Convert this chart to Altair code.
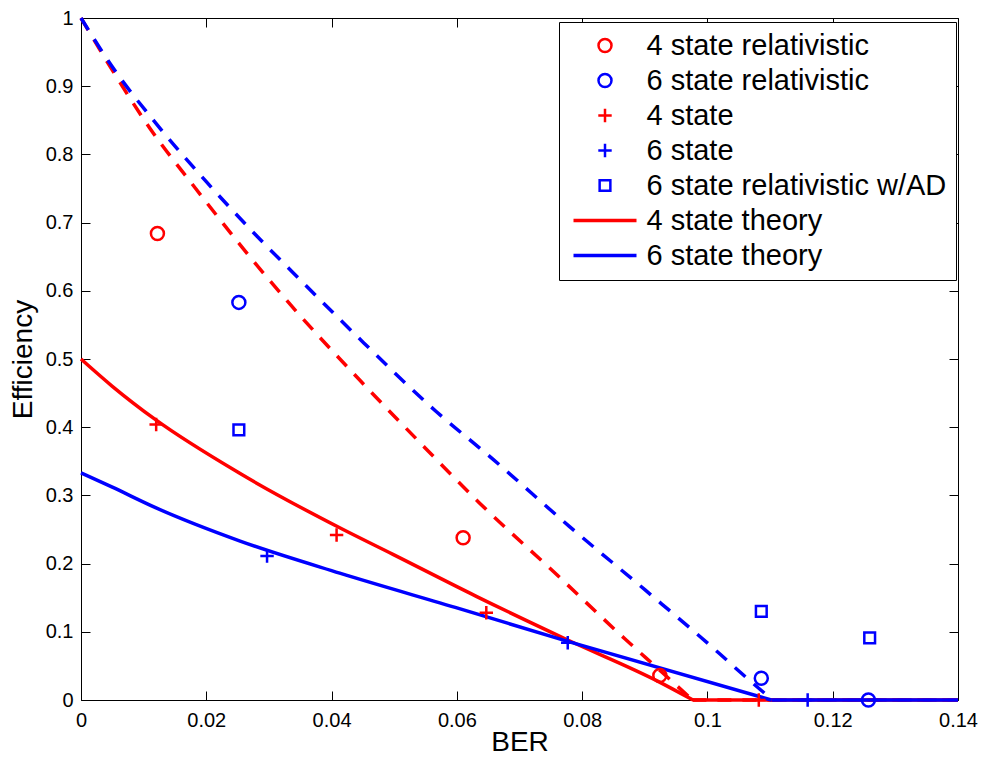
import altair as alt
import pandas as pd

# ---------------- data ----------------
x_ticks = [0, 0.02, 0.04, 0.06, 0.08, 0.1, 0.12, 0.14]
y_ticks = [0, 0.1, 0.2, 0.3, 0.4, 0.5, 0.6, 0.7, 0.8, 0.9, 1]

series_names = [
    "4 state relativistic",
    "6 state relativistic",
    "4 state",
    "6 state",
    "6 state relativistic w/AD",
    "4 state theory",
    "6 state theory",
]

# measured points
rel4_x = [0.0122, 0.0610, 0.0924]
rel4_y = [0.684, 0.238, 0.036]
rel6_x = [0.0252, 0.1086, 0.1257]
rel6_y = [0.583, 0.032, 0.0]
st4_x = [0.0120, 0.0408, 0.0647, 0.1082]
st4_y = [0.404, 0.242, 0.128, 0.0]
st6_x = [0.0297, 0.0777, 0.1160]
st6_y = [0.211, 0.084, 0.0]
ad6_x = [0.0252, 0.1086, 0.1259]
ad6_y = [0.396, 0.130, 0.091]

# theory curves (solid): sloped part, then the flat part at zero
th4_x = [0, 0.005, 0.0119, 0.0254, 0.0413, 0.0498, 0.0631, 0.0777, 0.0922, 0.0977]
th4_y = [0.5, 0.460, 0.411, 0.332, 0.2525, 0.2135, 0.152, 0.088, 0.027, 0.0]
th4_zero_x = [0.0977, 0.14]
th6_x = [0, 0.005, 0.0119, 0.0254, 0.0413, 0.0604, 0.0777, 0.1102]
th6_y = [0.333, 0.312, 0.282, 0.233, 0.186, 0.134, 0.086, 0.0]
th6_zero_x = [0.1102, 0.14]

# dashed curves
d4_x = [0, 0.0045, 0.0111, 0.0183, 0.0257, 0.0334, 0.0443, 0.0549, 0.0636, 0.0755, 0.0869, 0.0927, 0.0976]
d4_y = [1.0, 0.931, 0.837, 0.750, 0.664, 0.580, 0.471, 0.370, 0.289, 0.1876, 0.089, 0.041, 0.0]
d4_zero_x = [0.0976, 0.14]
d6_x = [0, 0.0048, 0.0121, 0.0200, 0.0281, 0.0337, 0.0451, 0.0567, 0.0657, 0.0779, 0.0901, 0.1020, 0.1052, 0.1104]
d6_y = [1.0, 0.931, 0.844, 0.760, 0.680, 0.628, 0.524, 0.423, 0.3535, 0.255, 0.161, 0.0674, 0.041, 0.0]
d6_zero_x = [0.1104, 0.14]

# ---------------- styles ----------------
FONT = "Liberation Sans"
RED = "#ff0000"
BLUE = "#0000ff"
PLUS = "M-1,0L1,0M0,-1L0,1"
W, H = 877, 682

color_range = [RED, BLUE, RED, BLUE, BLUE, RED, BLUE]
shape_range = ["circle", "circle", PLUS, PLUS, "square", "stroke", "stroke"]
size_range = [169, 169, 180, 180, 115, 3969, 3969]
sw_range = [2.5, 2.5, 2.5, 2.5, 2.5, 3.5, 3.5]

rows = []
for name, xs, ys in [
    ("4 state relativistic", rel4_x, rel4_y),
    ("6 state relativistic", rel6_x, rel6_y),
    ("4 state", st4_x, st4_y),
    ("6 state", st6_x, st6_y),
    ("6 state relativistic w/AD", ad6_x, ad6_y),
]:
    for xv, yv in zip(xs, ys):
        rows.append({"series": name, "ber": xv, "eff": yv})
points_df = pd.DataFrame(rows)

x_scale = alt.Scale(domain=[0, 0.14], nice=False, zero=False)
y_scale = alt.Scale(domain=[0, 1], nice=False, zero=False)

common_lab = dict(labelFont=FONT, labelFontSize=20, labelColor="black",
                  titleFont=FONT, titleFontSize=28, titleFontWeight="normal",
                  titleColor="black", grid=False, domain=False)

ax_x_main = alt.Axis(orient="bottom", values=x_ticks, format="~g", ticks=False, tickSize=0,
                     labelPadding=10, labelFlush=False, labelOverlap=False, labelBound=False,
                     title="BER", titlePadding=-2, **common_lab)
ax_y_main = alt.Axis(orient="left", values=y_ticks, format="~g", ticks=False, tickSize=0,
                     labelPadding=8, labelFlush=False, labelOverlap=False, labelBound=False,
                     title="Efficiency", titlePadding=8, **common_lab)


def tick_axis(orient, offset, values):
    return alt.Axis(orient=orient, offset=offset, values=values, labels=False, domain=False,
                    grid=False, ticks=True, tickSize=9, tickColor="black", tickWidth=1,
                    title=None)


def line_layer(xs, ys, zero_xs, color, dash, ax_x, ax_y):
    df = pd.concat([
        pd.DataFrame({"ber": xs, "eff": ys, "part": "slope"}),
        pd.DataFrame({"ber": zero_xs, "eff": [0.0] * len(zero_xs), "part": "zero"}),
    ], ignore_index=True)
    kw = dict(color=color, strokeWidth=3.5, interpolate="monotone", strokeCap="butt",
              strokeJoin="round")
    if dash:
        kw["strokeDash"] = dash
    return alt.Chart(df).mark_line(**kw).encode(
        x=alt.X("ber:Q", scale=x_scale, axis=ax_x),
        y=alt.Y("eff:Q", scale=y_scale, axis=ax_y),
        detail="part:N",
    )


dash4 = line_layer(d4_x, d4_y, d4_zero_x, RED, [14, 11], ax_x_main, ax_y_main)
dash6 = line_layer(d6_x, d6_y, d6_zero_x, BLUE, [14, 11],
                   tick_axis("top", -H, x_ticks), tick_axis("right", -W, y_ticks))
theo4 = line_layer(th4_x, th4_y, th4_zero_x, RED, None,
                   tick_axis("bottom", -H, x_ticks), tick_axis("left", -W, y_ticks))
theo6 = line_layer(th6_x, th6_y, th6_zero_x, BLUE, None, None, None)


def make_legend():
    return alt.Legend(
        title=None, orient="none", legendX=478, legendY=4, direction="vertical",
        padding=9, strokeColor="black", fillColor="white", cornerRadius=0,
        clipHeight=29, rowPadding=5,
        labelFont=FONT, labelFontSize=29, labelColor="black", labelLimit=600,
        labelOffset=8, symbolOffset=3.5, symbolStrokeWidth=2.5,
    )


points = alt.Chart(points_df).mark_point(filled=False, strokeWidth=2.5, opacity=1).encode(
    x=alt.X("ber:Q", scale=x_scale, axis=None),
    y=alt.Y("eff:Q", scale=y_scale, axis=None),
    color=alt.Color("series:N", scale=alt.Scale(domain=series_names, range=color_range),
                    legend=make_legend()),
    shape=alt.Shape("series:N", scale=alt.Scale(domain=series_names, range=shape_range),
                    legend=make_legend()),
    size=alt.Size("series:N", scale=alt.Scale(type="ordinal", domain=series_names, range=size_range),
                  legend=make_legend()),
    strokeWidth=alt.StrokeWidth("series:N",
                                scale=alt.Scale(type="ordinal", domain=series_names, range=sw_range),
                                legend=make_legend()),
)

chart = (
    alt.layer(dash4, dash6, theo4, theo6, points)
    .resolve_scale(x="shared", y="shared")
    .resolve_axis(x="independent", y="independent")
    .properties(
        width=W, height=H,
        autosize=alt.AutoSizeParams(type="none"),
        padding={"left": 73, "top": 10, "right": 20, "bottom": 57},
        background="white",
    )
    .configure_view(stroke="black", strokeWidth=1)
)

chart.save("out.html", embed_options={"renderer": "svg", "actions": False})
